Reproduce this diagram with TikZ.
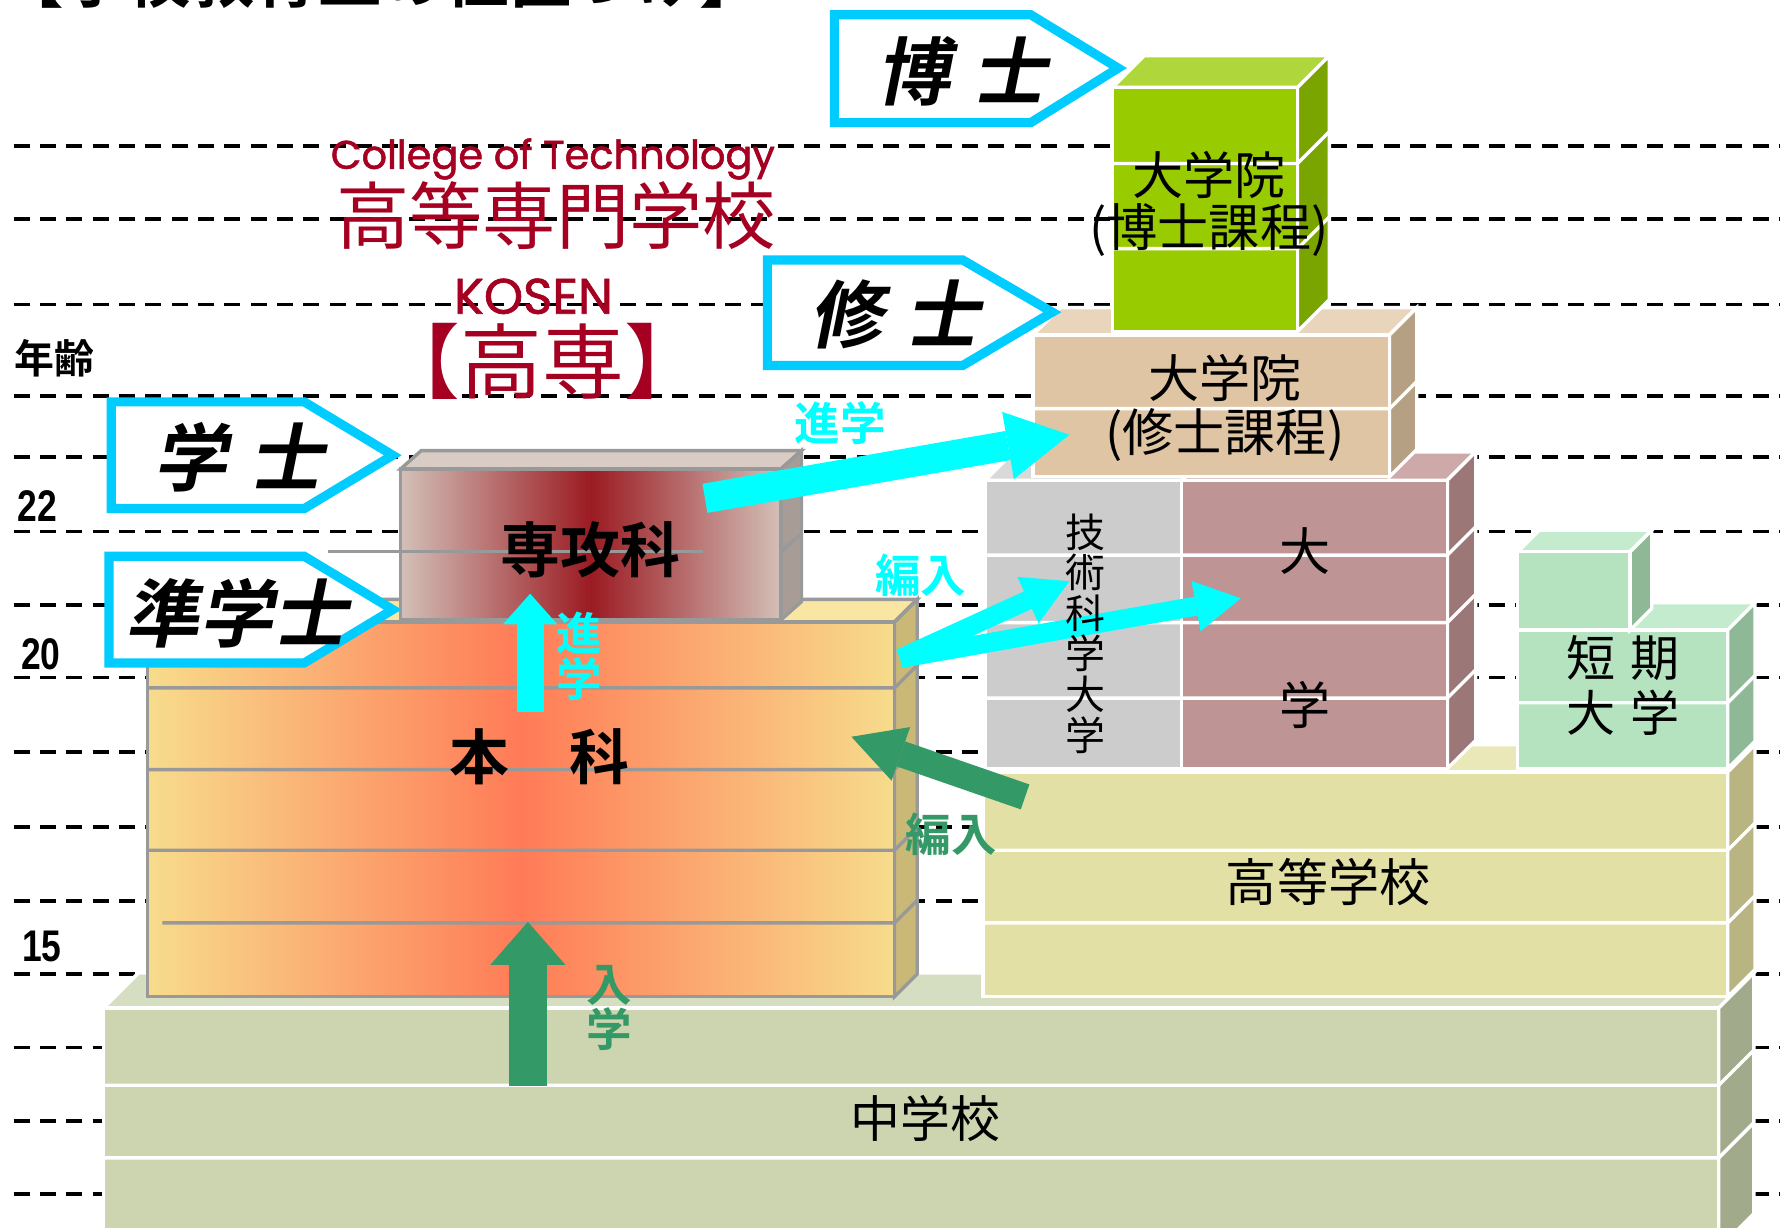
\documentclass[tikz,border=0pt]{standalone}
\usepackage{fontspec}
\usepackage{graphicx}
\usetikzlibrary{arrows.meta}
\setmainfont{Noto Sans CJK JP}
\newfontfamily\jpb{Noto Sans CJK JP Bold}
\newfontfamily\jpbi{Noto Sans CJK JP Bold}[FakeSlant=0.2]
\newfontfamily\popb{Poppins}[FakeBold=1.3]
\newfontfamily\numf{Liberation Sans}

\definecolor{labblue}{HTML}{00CCFF}
\definecolor{arrcyan}{HTML}{00FFFF}
\definecolor{arrgreen}{HTML}{339966}
\definecolor{kred}{HTML}{A50021}
\definecolor{bgray}{HTML}{999999}
\definecolor{jhsF}{HTML}{CCD5B0}\definecolor{jhsT}{HTML}{D6DEC2}\definecolor{jhsS}{HTML}{A2AA8C}
\definecolor{hsF}{HTML}{E2E0A5}\definecolor{hsT}{HTML}{EAE8B8}\definecolor{hsS}{HTML}{B9B583}
\definecolor{tkF}{HTML}{B5E3C0}\definecolor{tkT}{HTML}{C5EBCE}\definecolor{tkS}{HTML}{8FB897}
\definecolor{dgF}{HTML}{BF9494}\definecolor{dgT}{HTML}{CDA9A9}\definecolor{dgS}{HTML}{9B7777}
\definecolor{gkF}{HTML}{CCCCCC}\definecolor{gkT}{HTML}{D9D9D9}
\definecolor{msF}{HTML}{DFC5A4}\definecolor{msT}{HTML}{E8D5BC}\definecolor{msS}{HTML}{B5A083}
\definecolor{dcF}{HTML}{99CC00}\definecolor{dcT}{HTML}{AFD63A}\definecolor{dcS}{HTML}{7AA500}
\definecolor{hkY}{HTML}{F7DC8C}\definecolor{hkR}{HTML}{FF7B57}\definecolor{hkT}{HTML}{F8E6A2}\definecolor{hkS}{HTML}{C9B876}
\definecolor{skL}{HTML}{D3C0B8}\definecolor{skR}{HTML}{9B1B22}\definecolor{skT}{HTML}{D9CCC5}\definecolor{skS}{HTML}{A89C96}

\newcommand\fsz[1]{\fontsize{#1}{#1}\selectfont}
% x1,y1,x2,y2,depth,top,side,front,edge
\newcommand\myblk[9]{%
  \filldraw[#9, fill=#6] (#1,#2) -- (#1+#5,#2-#5) -- (#3+#5,#2-#5) -- (#3,#2) -- cycle;
  \filldraw[#9, fill=#7] (#3,#2) -- (#3+#5,#2-#5) -- (#3+#5,#4-#5) -- (#3,#4) -- cycle;
  \filldraw[#9, fill=#8] (#1,#2) rectangle (#3,#4);}
% x1,x2,depth,y,style
\newcommand\slab[5]{\draw[#5] (#1,#4) -- (#2,#4) -- ++(#3,-#3);}

\tikzset{
  dashline/.style={line width=0.85pt, dash pattern=on 4pt off 2.6pt},
  wedge/.style={draw=white, line width=0.85pt},
  gedge/.style={draw=bgray, line width=0.85pt},
  lab/.style={draw=labblue, line width=2.3pt, fill=white, miter limit=10},
  labtxt/.style={font={\jpbi\fsz{18.5pt}}, inner sep=0},
  btxt/.style={inner sep=0},
  atxt/.style={font={\jpb\fsz{11.4pt}}, inner sep=0},
  bigcyan/.style={draw=arrcyan, line width=7.4pt, -{Triangle[width=17.1pt,length=15.6pt,line width=0pt]}},
  midcyan/.style={draw=arrcyan, line width=4.8pt, -{Triangle[width=12.8pt,length=11.4pt,line width=0pt]}},
  upcyan/.style={draw=arrcyan, line width=6.8pt, -{Triangle[width=13.7pt,length=7.7pt,line width=0pt]}},
  bggreen/.style={draw=arrgreen, line width=6.6pt, -{Triangle[width=14.2pt,length=13.1pt,line width=0pt]}},
  upgreen/.style={draw=arrgreen, line width=9.4pt, -{Triangle[width=18.8pt,length=10.8pt,line width=0pt]}},
  agetxt/.style={font={\numf\bfseries\fsz{11.1pt}}, inner sep=0}
}

\begin{document}
\begin{tikzpicture}[x=0.01cm,y=-0.01cm]
\useasboundingbox (0,0) rectangle (1568,1081);
\begin{scope}
\clip (0,0) rectangle (1568,1081);
\fill[white] (0,0) rectangle (1568,1081);

% dashed age lines
\foreach \yy in {128.6,193,268,349,402.6,468,533,597,662.5,728.5,793.7,858,923,987.5,1051.8}
  \draw[dashline] (12,\yy) -- (1568,\yy);

% cut-off heading
\node[anchor=base west, inner sep=0] (ttl) at (0,2.5) {\jpb\fsz{15.9pt}【学校教育上の位置づけ】};

% junior high school
\myblk{91}{888}{1514}{1100}{31}{jhsT}{jhsS}{jhsF}{wedge}
\slab{91}{1514}{31}{956}{wedge}
\slab{91}{1514}{31}{1020}{wedge}

% high school
\myblk{866}{680}{1522}{878}{24}{hsT}{hsS}{hsF}{wedge}
\slab{866}{1522}{24}{749}{wedge}
\slab{866}{1522}{24}{813}{wedge}

% junior college
\myblk{1337}{555}{1522}{677}{24}{tkT}{tkS}{tkF}{wedge}
\slab{1337}{1522}{24}{619}{wedge}
\myblk{1337}{486}{1436}{555}{19}{tkT}{tkS}{tkF}{wedge}

% university + tech univ
\myblk{1041}{423}{1275}{677}{25}{dgT}{dgS}{dgF}{wedge}
\filldraw[wedge, fill=gkT] (868,423) -- (893,398) -- (1066,398) -- (1041,423) -- cycle;
\filldraw[wedge, fill=gkF] (868,423) rectangle (1041,677);
\slab{868}{1275}{25}{489}{wedge}
\slab{868}{1275}{25}{548.5}{wedge}
\slab{868}{1275}{25}{615}{wedge}

% master
\myblk{910}{295}{1224}{420}{24}{msT}{msS}{msF}{wedge}
\slab{910}{1224}{24}{360}{wedge}

% doctor
\myblk{980}{77}{1143}{292}{28}{dcT}{dcS}{dcF}{wedge}
\slab{980}{1143}{28}{144}{wedge}
\slab{980}{1143}{28}{219}{wedge}

% honka
\filldraw[gedge, fill=hkT] (130,548) -- (150,528) -- (808,528) -- (788,548) -- cycle;
\filldraw[gedge, fill=hkS] (788,548) -- (808,528) -- (808,858) -- (788,878) -- cycle;
\shade[left color=hkY, right color=hkY, middle color=hkR] (130,548) rectangle (788,878);
\draw[gedge] (130,548) rectangle (788,878);
\slab{130}{788}{20}{606}{gedge}
\slab{130}{788}{20}{678}{gedge}
\slab{130}{788}{20}{749}{gedge}
\slab{143}{788}{20}{813}{gedge}

% senkouka
\filldraw[gedge, fill=skT] (353,413) -- (371,397) -- (706,397) -- (688,413) -- cycle;
\filldraw[gedge, fill=skS] (688,413) -- (706,397) -- (706,530) -- (688,546) -- cycle;
\shade[left color=skL, right color=skL, middle color=skR] (353,413) rectangle (688,546);
\draw[gedge] (353,413) rectangle (688,546);
\draw[gedge] (688,486) -- ++(18,-16);
\draw[gedge] (289,486) -- (619,486);

% degree labels
\draw[lab] (98,354) -- (268,354) -- (346,401) -- (268,448) -- (98,448) -- cycle;
\draw[lab] (96,490) -- (268,490) -- (346,537) -- (268,584) -- (96,584) -- cycle;
\draw[lab] (735,13) -- (908,13) -- (985,60) -- (908,108) -- (735,108) -- cycle;
\draw[lab] (676,229) -- (848,229) -- (927,275) -- (848,322) -- (676,322) -- cycle;
\node[labtxt] (lbD) at (847,63) {博\hspace{0.3em}士};
\node[labtxt] (lbM) at (788,277) {修\hspace{0.3em}士};
\node[labtxt] (lbB) at (210,403) {学\hspace{0.3em}士};
\node[labtxt] (lbA) at (208,540) {準学士};

% arrows
\coordinate (a1s) at (621,439); \coordinate (a1e) at (942,383);
\coordinate (a2s) at (793,580); \coordinate (a2e) at (942,512);
\coordinate (a3e) at (1093,527);
\coordinate (a4s) at (467,627); \coordinate (a4e) at (467,523);
\coordinate (a5s) at (903,702); \coordinate (a5e) at (750,649);
\coordinate (a6s) at (465,957); \coordinate (a6e) at (465,812);
\draw[bigcyan] (a1s) -- (a1e);
\draw[midcyan] (a2s) -- (a2e);
\draw[midcyan] (a2s) -- (a3e);
\draw[upcyan] (a4s) -- (a4e);
\draw[bggreen] (a5s) -- (a5e);
\draw[upgreen] (a6s) -- (a6e);

% arrow labels
\node[atxt, text=arrcyan] (l1) at (740,373) {進学};
\node[atxt, text=arrcyan] (l2) at (811,507) {編入};
\node[atxt, text=arrcyan, align=center, font={\jpb\fontsize{11.4pt}{11.7pt}\selectfont}] (l3) at (510,578) {進\\学};
\node[atxt, text=arrgreen] (l4) at (838,735) {編入};
\node[atxt, text=arrgreen, align=center, font={\jpb\fontsize{11.4pt}{11.4pt}\selectfont}] (l5) at (537,888) {入\\学};

% block texts
\node[btxt, font={\jpb\fsz{15pt}}] (tSk) at (520,484) {専攻科};
\node[btxt, font={\jpb\fsz{15pt}}] (tHk) at (475,667) {本\hspace{1em}科};
\node[btxt, font=\fsz{12.5pt}] (tJh) at (815,985) {中学校};
\node[btxt, font=\fsz{12.8pt}] (tHs) at (1170,777) {高等学校};
\node[btxt, align=center, font={\fontsize{10pt}{10.16pt}\selectfont}] (tGk) at (956,558) {技\\術\\科\\学\\大\\学};
\node[btxt, font=\fsz{12.8pt}] (tD1) at (1150,485) {大};
\node[btxt, font=\fsz{12.8pt}] (tD2) at (1150,621) {学};
\node[btxt, align=center, font={\fontsize{12.3pt}{13.66pt}\selectfont}] (tTk) at (1430,604) {短\hspace{0.3em}期\\大\hspace{0.3em}学};
\node[btxt, font=\fsz{12.8pt}] (tM1) at (1079,333) {大学院};
\node[btxt, font=\fsz{12.8pt}] (tM2) at (1079,383) {(修士課程)};
\node[btxt, font=\fsz{12.8pt}] (tC1) at (1065,154) {大学院};
\node[btxt, font=\fsz{12.8pt}] (tC2) at (1065,203) {(博士課程)};

% title texts
\node[btxt, text=kred] (tEn) at (487,140) {\resizebox{3.91cm}{!}{\popb College of Technology}};
\node[btxt, text=kred, font=\fsz{18.35pt}] (tJa) at (490,190) {高等専門学校};
\node[btxt, text=kred] (tKo) at (470,261) {\resizebox{1.40cm}{!}{\popb KOSEN}};
\node[btxt, text=kred, font=\fsz{20.5pt}] (tKs) at (478,318) {【高専】};

% ages
\node[btxt, font={\jpb\fsz{10pt}}] (tAge) at (48,316) {年齢};
\node[agetxt] (n22) at (33,446) {\scalebox{0.8}[1]{22}};
\node[agetxt] (n20) at (36,576) {\scalebox{0.8}[1]{20}};
\node[agetxt] (n15) at (37,834) {\scalebox{0.8}[1]{15}};
\end{scope}
\end{tikzpicture}
\end{document}
